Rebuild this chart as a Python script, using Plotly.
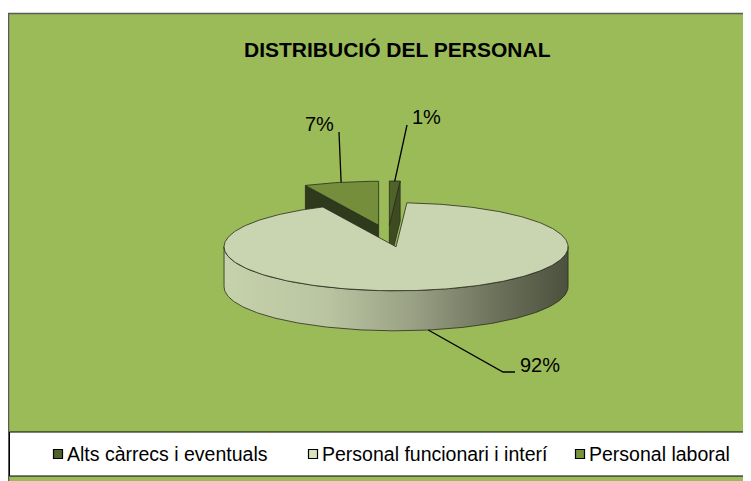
import numpy as np
import plotly.graph_objects as go

# ---------------- data ----------------
categories = ["Alts càrrecs i eventuals", "Personal funcionari i interí", "Personal laboral"]
percentages = [1, 92, 7]
title_text = "DISTRIBUCIÓ DEL PERSONAL"

# ---------------- style ----------------
top_colors = ["#4F6229", "#C9D5B1", "#758E3B"]
face_colors = ["#3D4C20", "#AEB896", "#2D3A1C"]
legend_colors = ["#4F6228", "#D7E4BD", "#77933C"]
wall_scale = [[0, "#C6D2AC"], [0.3, "#BAC4A1"], [0.55, "#99A084"],
              [0.8, "#6B7059"], [1, "#4C513F"]]
OUTLINE = "#2B2B20"
BG = "#9BBB59"
FONT = "Liberation Sans, Arial, sans-serif"

W, H = 751, 481
PAGE_OFF = 8               # browser default body margin
CX, CY = 388.0, 236.0      # pie centre (page pixels)
A, B = 172.0, 44.0         # ellipse semi-axes
DEPTH = 40.0               # pie thickness
EXPLODE = 0.25             # explosion, fraction of radius

# label anchor points (end of leader lines) and text centres
label_anchor = [(407, 125), (503, 372), (339, 132)]
label_elbow = [None, (515, 372), None]
label_text_pos = [(426, 117), (540, 365), (319, 124)]
label_leader_from = ["top", "bottom", "top"]

legend_swatch_x = [58, 313, 580]
legend_text_x = [65, 320, 587]
legend_y = 454


def ell(cx, cy, th, r=1.0):
    t = np.radians(th)
    return cx + r * A * np.sin(t), cy - r * B * np.cos(t)


def arc(cx, cy, t0, t1, dy=0.0):
    n = max(3, int(abs(t1 - t0) / 1.0) + 2)
    ts = np.linspace(t0, t1, n)
    xs, ys = ell(cx, cy, ts)
    return list(xs), list(ys + dy)


fig = go.Figure()

total = float(sum(percentages))
slices = []
cum = 0.0
for i, v in enumerate(percentages):
    t0 = cum
    t1 = cum + v / total * 360.0
    cum = t1
    mid = (t0 + t1) / 2
    px, py = ell(CX, CY, mid, EXPLODE)
    slices.append(dict(i=i, t0=t0, t1=t1, mid=mid, px=px, py=py))


def poly(xs, ys, color=None, grad=None):
    kw = dict(x=xs + [xs[0]], y=ys + [ys[0]], mode="lines", fill="toself",
              line=dict(color=OUTLINE, width=0.8), hoverinfo="skip",
              showlegend=False)
    if grad is not None:
        kw["fillgradient"] = dict(type="horizontal", colorscale=grad)
    else:
        kw["fillcolor"] = color
    fig.add_trace(go.Scatter(**kw))


# draw back-to-front
for s in sorted(slices, key=lambda s: s["py"]):
    i, t0, t1, px, py = s["i"], s["t0"], s["t1"], s["px"], s["py"]
    # radial cut faces
    if np.sin(np.radians(t0)) < -1e-6:
        qx, qy = ell(px, py, t0)
        poly([px, qx, qx, px], [py, qy, qy + DEPTH, py + DEPTH], face_colors[i])
    if np.sin(np.radians(t1)) > 1e-6:
        qx, qy = ell(px, py, t1)
        poly([px, qx, qx, px], [py, qy, qy + DEPTH, py + DEPTH], face_colors[i])
    # outer wall (front half only)
    w0, w1 = max(t0, 90.0), min(t1, 270.0)
    if w1 > w0:
        ax, ay = arc(px, py, w0, w1)
        bx, by = arc(px, py, w0, w1, DEPTH)
        poly(ax + bx[::-1], ay + by[::-1], grad=wall_scale)
    # top face
    ax, ay = arc(px, py, t0, t1)
    poly([px] + ax, [py] + ay, top_colors[i])

# data labels with leader lines
for s in slices:
    i = s["i"]
    sx, sy = ell(s["px"], s["py"], s["mid"])
    if label_leader_from[i] == "bottom":
        sy += DEPTH
    xs, ys = [sx, label_anchor[i][0]], [sy, label_anchor[i][1]]
    if label_elbow[i] is not None:
        xs.append(label_elbow[i][0]); ys.append(label_elbow[i][1])
    fig.add_trace(go.Scatter(x=xs, y=ys, mode="lines",
                             line=dict(color="black", width=1.3),
                             hoverinfo="skip", showlegend=False))
    fig.add_annotation(x=label_text_pos[i][0], y=label_text_pos[i][1],
                       text=f"{percentages[i]}%", showarrow=False,
                       font=dict(family=FONT, size=20, color="black"),
                       xanchor="center", yanchor="middle")

# legend swatches + text
fig.add_trace(go.Scatter(x=legend_swatch_x, y=[legend_y] * 3, mode="markers",
                         marker=dict(symbol="square", size=9, color=legend_colors,
                                     line=dict(color="black", width=1.2)),
                         hoverinfo="skip", showlegend=False))
for i, name in enumerate(categories):
    fig.add_annotation(x=legend_text_x[i], y=legend_y, text=name, showarrow=False,
                       font=dict(family=FONT, size=19.5, color="black"),
                       xanchor="left", yanchor="middle")

# title
fig.add_annotation(x=397, y=49, text=f"<b>{title_text}</b>", showarrow=False,
                   font=dict(family=FONT, size=21, color="black"),
                   xanchor="center", yanchor="middle")

# chart area and legend box
fig.add_shape(type="rect", x0=8.5, y0=13.5, x1=W + 20, y1=H + 20,
              fillcolor=BG, line=dict(color="#5A5A5A", width=1.5), layer="below")
fig.add_shape(type="rect", x0=9.5, y0=432, x1=W + 20, y1=476,
              fillcolor="white", line=dict(color="black", width=1), layer="below")

fig.update_layout(width=W, height=H, margin=dict(l=0, r=0, t=0, b=0),
                  paper_bgcolor="white", plot_bgcolor="white",
                  showlegend=False,
                  xaxis=dict(range=[PAGE_OFF, PAGE_OFF + W], visible=False, fixedrange=True),
                  yaxis=dict(range=[PAGE_OFF + H, PAGE_OFF], visible=False, fixedrange=True))

fig.write_html("out.html")
